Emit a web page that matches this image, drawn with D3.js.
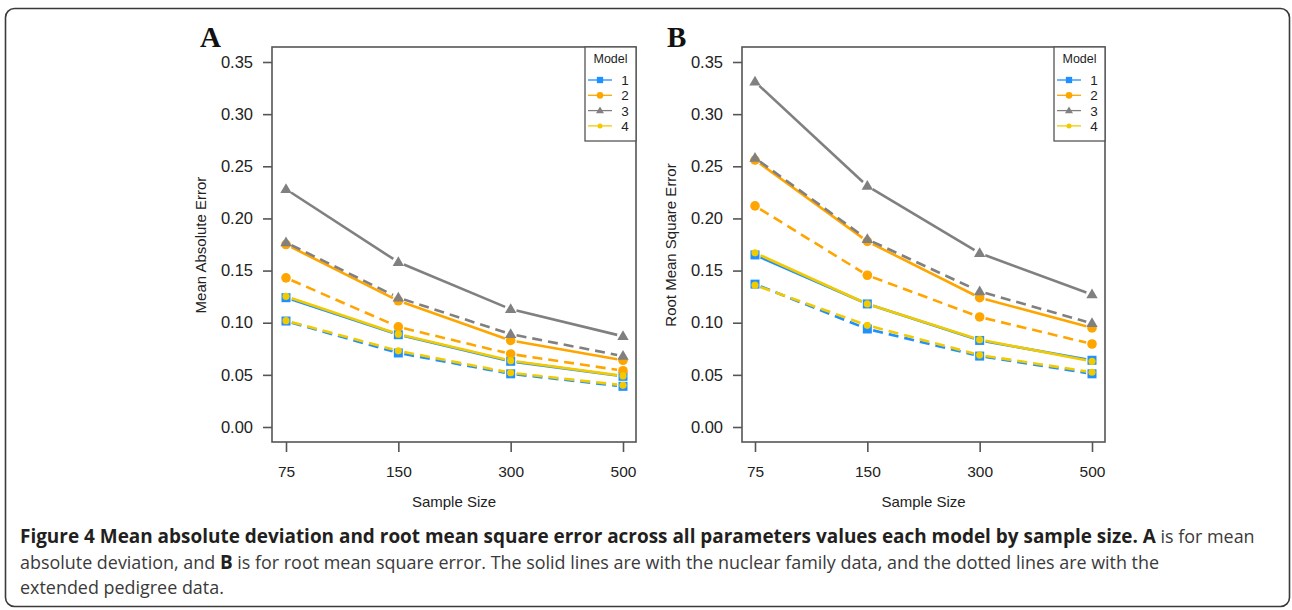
<!DOCTYPE html>
<html>
<head>
<meta charset="utf-8">
<script src="https://cdn.jsdelivr.net/npm/d3@7"></script>
<style>
  html, body { margin: 0; padding: 0; background: #fff; }
  svg { display: block; }
</style>
</head>
<body>
<div id="viewportContainer"></div>
<script>
/* --- data --- */
const sampleSizes = ["75", "150", "300", "500"];
const models = ["1", "2", "3", "4"];
const yTicks = [0, 0.05, 0.1, 0.15, 0.2, 0.25, 0.3, 0.35];

// Panel A: mean absolute error (solid = nuclear family, dashed = extended pedigree)
const maeSolid1 = [0.124, 0.0885, 0.063, 0.0486];
const maeSolid2 = [0.175, 0.121, 0.083, 0.064];
const maeSolid3 = [0.228, 0.158, 0.113, 0.087];
const maeSolid4 = [0.1253, 0.089, 0.0636, 0.049];
const maeDash1 = [0.1016, 0.071, 0.051, 0.039];
const maeDash2 = [0.143, 0.096, 0.07, 0.054];
const maeDash3 = [0.177, 0.124, 0.089, 0.068];
const maeDash4 = [0.102, 0.073, 0.052, 0.04];

// Panel B: root mean square error
const rmseSolid1 = [0.165, 0.118, 0.083, 0.064];
const rmseSolid2 = [0.256, 0.178, 0.124, 0.095];
const rmseSolid3 = [0.331, 0.231, 0.1666, 0.127];
const rmseSolid4 = [0.167, 0.118, 0.0837, 0.063];
const rmseDash1 = [0.137, 0.094, 0.068, 0.051];
const rmseDash2 = [0.212, 0.1455, 0.1055, 0.0796];
const rmseDash3 = [0.258, 0.18, 0.13, 0.0994];
const rmseDash4 = [0.136, 0.0975, 0.069, 0.0525];

const modelColors = ["#1E90FF", "#FFA500", "#808080", "#F2CA00"];
const modelShapes = ["square", "circle", "triangle", "dot"];

const W = 1292, H = 610;

const svg = d3.select("#viewportContainer").append("svg")
  .attr("width", W).attr("height", H)
  .attr("viewBox", `0 0 ${W} ${H}`);

// 外枠
svg.append("rect")
  .attr("x", 5.5).attr("y", 8.5).attr("width", 1284).attr("height", 598)
  .attr("rx", 9).attr("fill", "none")
  .attr("stroke", "#3a3a3a").attr("stroke-width", 1.6);

function drawMarker(g, shape, cx, cy, color, scale) {
  const s = scale || 1;
  if (shape === "square") {
    g.append("rect").attr("x", cx - 4.5 * s).attr("y", cy - 4.5 * s)
      .attr("width", 9 * s).attr("height", 9 * s).attr("fill", color);
  } else if (shape === "circle") {
    g.append("circle").attr("cx", cx).attr("cy", cy).attr("r", 4.8 * s).attr("fill", color);
  } else if (shape === "triangle") {
    const r = 6 * s;
    g.append("path")
      .attr("d", `M${cx},${cy - r}L${cx + r * 0.95},${cy + r * 0.62}L${cx - r * 0.95},${cy + r * 0.62}Z`)
      .attr("fill", color);
  } else {
    g.append("circle").attr("cx", cx).attr("cy", cy).attr("r", 3.6 * s).attr("fill", color);
  }
}

function drawPanel(p) {
  const x = d3.scalePoint().domain(sampleSizes).range([p.x0, p.x1]);
  const y = d3.scaleLinear().domain([0, 0.35]).range([427, 62]);
  const g = svg.append("g");

  // series (type "b": gaps around points)
  const gap = 6;
  p.series.forEach((s) => {
    const pts = s.values.map((v, i) => [x(sampleSizes[i]), y(v)]);
    const color = modelColors[s.model];
    for (let i = 0; i < pts.length - 1; i++) {
      const [ax, ay] = pts[i], [bx, by] = pts[i + 1];
      const len = Math.hypot(bx - ax, by - ay);
      const ux = (bx - ax) / len, uy = (by - ay) / len;
      g.append("line")
        .attr("x1", ax + ux * gap).attr("y1", ay + uy * gap)
        .attr("x2", bx - ux * gap).attr("y2", by - uy * gap)
        .attr("stroke", color).attr("stroke-width", 2.6)
        .attr("stroke-dasharray", s.dashed ? "10,6" : null);
    }
    pts.forEach(([px, py]) => drawMarker(g, modelShapes[s.model], px, py, color));
  });

  // box
  g.append("rect")
    .attr("x", p.bx0).attr("y", 47).attr("width", p.bx1 - p.bx0).attr("height", 442 - 47)
    .attr("fill", "none").attr("stroke", "#555").attr("stroke-width", 1.6);

  // y axis
  const yAxis = g.append("g").attr("transform", `translate(${p.bx0},0)`)
    .call(d3.axisLeft(y).tickValues(yTicks).tickFormat(d3.format(".2f")).tickSize(9).tickPadding(10));
  yAxis.select(".domain").remove();
  yAxis.selectAll("line").attr("stroke", "#555").attr("stroke-width", 1.6);
  yAxis.selectAll("text").attr("font-family", "Liberation Sans, Arial, sans-serif")
    .attr("font-size", 16.5).attr("fill", "#222");

  // x axis
  const xAxis = g.append("g").attr("transform", "translate(0,442)")
    .call(d3.axisBottom(x).tickSize(10).tickPadding(14));
  xAxis.select(".domain").remove();
  xAxis.selectAll("line").attr("stroke", "#555").attr("stroke-width", 1.6);
  xAxis.selectAll("text").attr("font-family", "Liberation Sans, Arial, sans-serif")
    .attr("font-size", 15.5).attr("fill", "#222");

  // axis titles
  g.append("text")
    .attr("x", (p.bx0 + p.bx1) / 2).attr("y", 507)
    .attr("text-anchor", "middle")
    .attr("font-family", "Liberation Sans, Arial, sans-serif").attr("font-size", 15)
    .attr("fill", "#222").text("Sample Size");
  g.append("text")
    .attr("transform", `translate(${p.bx0 - 66},245) rotate(-90)`)
    .attr("text-anchor", "middle")
    .attr("font-family", "Liberation Sans, Arial, sans-serif").attr("font-size", 15)
    .attr("fill", "#222").text(p.ylabel);

  // panel letter
  g.append("text")
    .attr("x", p.letterX).attr("y", 47)
    .attr("font-family", "Liberation Serif, Times New Roman, serif")
    .attr("font-weight", "bold").attr("font-size", 29)
    .attr("fill", "#111").text(p.letter);

  // legend
  const lx0 = p.bx1 - 51;
  const lg = g.append("g");
  lg.append("rect")
    .attr("x", lx0).attr("y", 47).attr("width", 51).attr("height", 94)
    .attr("fill", "#fff").attr("stroke", "#555").attr("stroke-width", 1.3);
  lg.append("text")
    .attr("x", lx0 + 25.5).attr("y", 63).attr("text-anchor", "middle")
    .attr("font-family", "Liberation Sans, Arial, sans-serif").attr("font-size", 12.5)
    .attr("fill", "#222").text("Model");
  models.forEach((m, i) => {
    const ly = 80 + i * 15.3;
    const c = modelColors[i];
    lg.append("line")
      .attr("x1", lx0 + 3).attr("x2", lx0 + 27).attr("y1", ly).attr("y2", ly)
      .attr("stroke", c).attr("stroke-width", 1.3);
    drawMarker(lg, modelShapes[i], lx0 + 15, ly, c, 0.7);
    lg.append("text")
      .attr("x", lx0 + 40).attr("y", ly + 5).attr("text-anchor", "middle")
      .attr("font-family", "Liberation Sans, Arial, sans-serif").attr("font-size", 13.5)
      .attr("fill", "#222").text(m);
  });
}

drawPanel({
  letter: "A", letterX: 200, ylabel: "Mean Absolute Error",
  x0: 286, x1: 623, bx0: 272, bx1: 636,
  series: [
    { model: 0, dashed: false, values: maeSolid1 },
    { model: 0, dashed: true, values: maeDash1 },
    { model: 1, dashed: false, values: maeSolid2 },
    { model: 1, dashed: true, values: maeDash2 },
    { model: 2, dashed: false, values: maeSolid3 },
    { model: 2, dashed: true, values: maeDash3 },
    { model: 3, dashed: false, values: maeSolid4 },
    { model: 3, dashed: true, values: maeDash4 }
  ]
});

drawPanel({
  letter: "B", letterX: 667, ylabel: "Root Mean Square Error",
  x0: 755, x1: 1092, bx0: 742, bx1: 1105,
  series: [
    { model: 0, dashed: false, values: rmseSolid1 },
    { model: 0, dashed: true, values: rmseDash1 },
    { model: 1, dashed: false, values: rmseSolid2 },
    { model: 1, dashed: true, values: rmseDash2 },
    { model: 2, dashed: false, values: rmseSolid3 },
    { model: 2, dashed: true, values: rmseDash3 },
    { model: 3, dashed: false, values: rmseSolid4 },
    { model: 3, dashed: true, values: rmseDash4 }
  ]
});

// キャプション
const capLines = [
  [["Figure 4 Mean absolute deviation and root mean square error across all parameters values each model by sample size. ", true],
   ["A", true], [" is for mean", false]],
  [["absolute deviation, and ", false], ["B", true],
   [" is for root mean square error. The solid lines are with the nuclear family data, and the dotted lines are with the", false]],
  [["extended pedigree data.", false]]
];
const cap = svg.append("text")
  .attr("font-family", "Open Sans, Noto Sans, sans-serif");
const capSpans = [];
capLines.forEach((line, li) => {
  line.forEach((part, pi) => {
    const t = cap.append("tspan").text(part[0])
      .attr("font-size", 18)
      .attr("font-weight", part[1] ? "bold" : "normal")
      .attr("fill", part[1] ? "#231f20" : "#3a3a3a");
    if (pi === 0) t.attr("x", 20).attr("y", 543 + li * 25.5);
    capSpans.push({ node: t, line: li, bold: part[1] });
  });
});
// 1行目・2行目の幅に合わせて太字・標準のサイズを調整
const w = (li, b) => d3.sum(capSpans.filter((s) => s.line === li && s.bold === b),
  (s) => s.node.node().getComputedTextLength());
const b1 = w(0, true), r1 = w(0, false), b2 = w(1, true), r2 = w(1, false);
const target1 = 1236, target2 = 1140;
const det = b1 * r2 - r1 * b2;
const kb = (target1 * r2 - r1 * target2) / det;
const kr = (b1 * target2 - target1 * b2) / det;
capSpans.forEach((s) => s.node.attr("font-size", 18 * (s.bold ? kb : kr)));
</script>
</body>
</html>
